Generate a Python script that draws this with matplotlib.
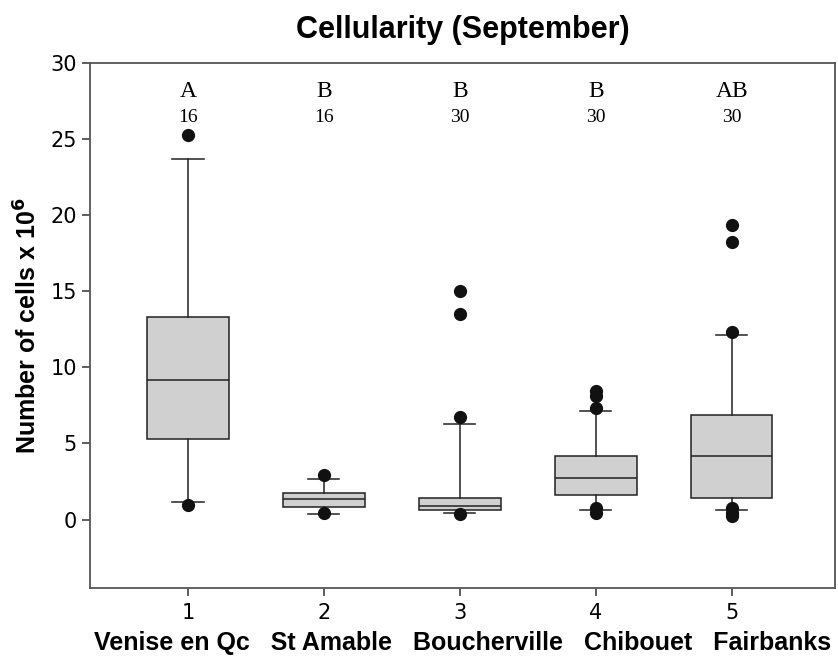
import matplotlib
matplotlib.use("Agg")
import matplotlib.pyplot as plt

# group labels and box statistics
sites = ["Venise en Qc", "St Amable", "Boucherville", "Chibouet", "Fairbanks"]
positions = [1, 2, 3, 4, 5]
q1 = [5.3, 0.85, 0.6, 1.6, 1.4]
med = [9.2, 1.35, 0.9, 2.7, 4.2]
q3 = [13.3, 1.75, 1.4, 4.2, 6.9]
whislo = [1.15, 0.35, 0.4, 0.65, 0.65]
whishi = [23.7, 2.65, 6.25, 7.15, 12.1]
fliers = [
    [25.3, 0.95],
    [2.9, 0.4],
    [15.0, 13.5, 6.75, 0.35],
    [8.45, 8.1, 7.35, 0.75, 0.45],
    [19.35, 18.25, 12.35, 0.75, 0.4, 0.2],
]
letters = ["A", "B", "B", "B", "AB"]
counts = ["16", "16", "30", "30", "30"]

stats = []
for i in range(len(sites)):
    stats.append(dict(q1=q1[i], med=med[i], q3=q3[i], whislo=whislo[i],
                      whishi=whishi[i], fliers=fliers[i]))

fig = plt.figure(figsize=(8.38, 6.61), dpi=100)
ax = fig.add_axes([0.1074, 0.1104, 0.8890, 0.7943])

ax.bxp(stats, positions=positions, widths=0.6, patch_artist=True,
       boxprops=dict(facecolor="#d0d0d0", edgecolor="#222222", linewidth=1.1),
       medianprops=dict(color="#222222", linewidth=1.1),
       whiskerprops=dict(color="#222222", linewidth=1.1),
       capprops=dict(color="#222222", linewidth=1.1),
       capwidths=0.23,
       flierprops=dict(marker="o", markerfacecolor="#111111",
                       markeredgecolor="#111111", markersize=8.5))

for x, let, n in zip(positions, letters, counts):
    ax.text(x, 28.1, let, ha="center", va="center", fontsize=17,
            family="Liberation Serif")
    ax.text(x, 26.4, n, ha="center", va="center", fontsize=14,
            family="Liberation Serif")

ax.set_xlim(0.28, 5.76)
ax.set_ylim(-4.5, 30)
ax.set_yticks([0, 5, 10, 15, 20, 25, 30])
ax.set_xticks(positions)
ax.set_xticklabels([str(p) for p in positions])
ax.tick_params(labelsize=15, length=6, width=1.1, color="#333333")
ax.tick_params(axis="x", pad=5)
for s in ax.spines.values():
    s.set_color("#555555")
    s.set_linewidth(1.3)

# site names are one spaced-out line under the axis, as in the original
ax.text(0.5, -0.105, "   ".join(sites), transform=ax.transAxes,
        ha="center", va="center", fontsize=18, fontweight="bold",
        family="Liberation Sans")

ax.set_ylabel("Number of cells x 10$^{\\mathbf{6}}$", fontsize=18,
              fontweight="bold", family="Liberation Sans", labelpad=6)
ax.set_title("Cellularity (September)", fontsize=22, fontweight="bold",
             family="Liberation Sans", pad=18)

fig.savefig("out.png", dpi=100)
